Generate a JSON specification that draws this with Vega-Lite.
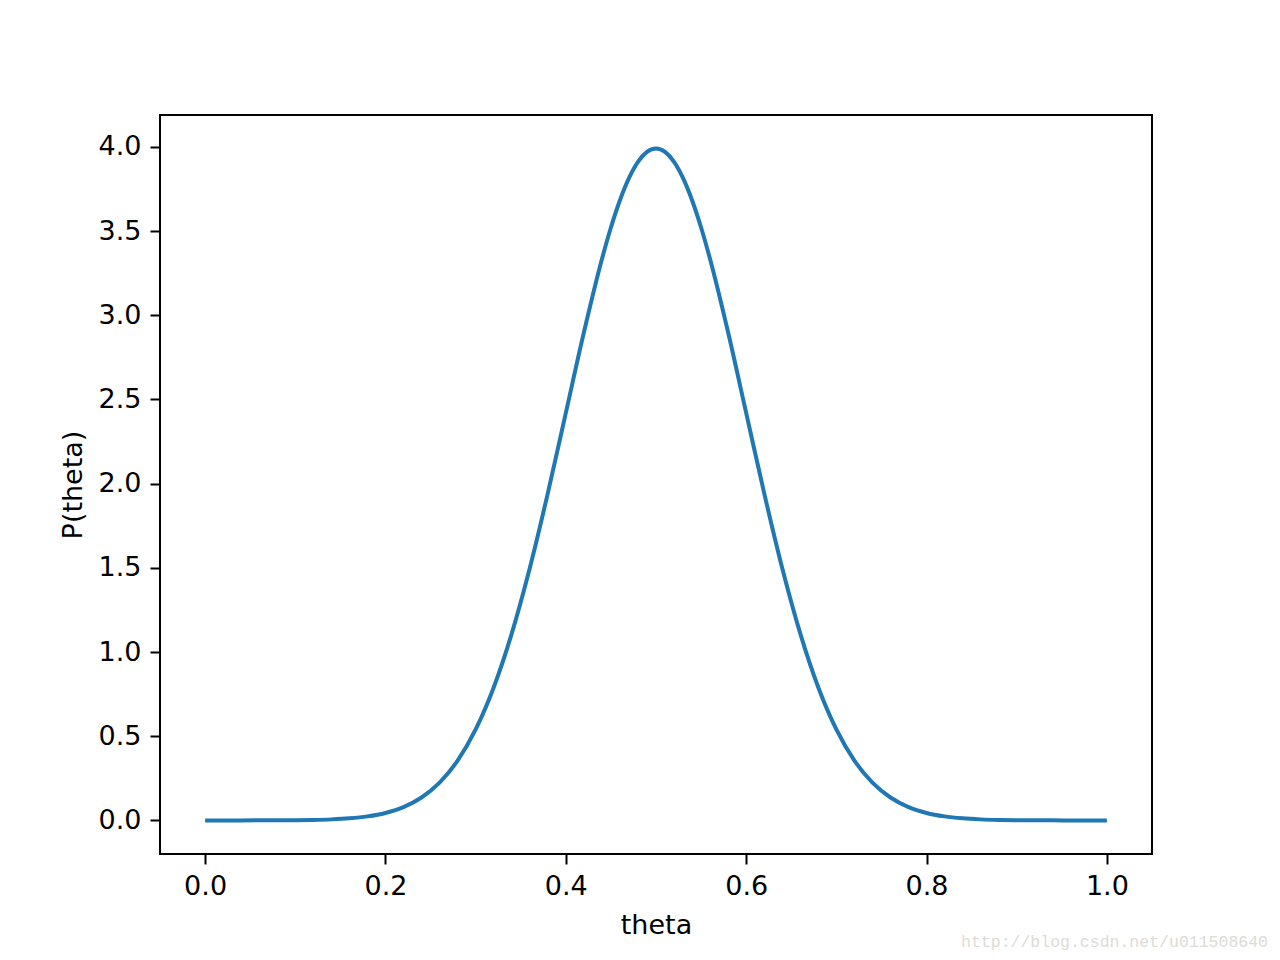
{
  "$schema": "https://vega.github.io/schema/vega-lite/v6.json",
  "autosize": "none",
  "width": 992,
  "height": 739,
  "padding": {"left": 160, "top": 115, "right": 128, "bottom": 106},
  "background": "white",
  "config": {
    "font": "DejaVu Sans",
    "view": {"stroke": "black", "strokeWidth": 2},
    "axis": {
      "domain": false,
      "grid": false,
      "tickColor": "black",
      "tickWidth": 2,
      "tickSize": 10,
      "labelColor": "black",
      "labelFont": "DejaVu Sans",
      "labelFontSize": 27,
      "titleFont": "DejaVu Sans",
      "titleFontSize": 27,
      "titleFontWeight": "normal",
      "titleColor": "black",
      "labelPadding": 9
    }
  },
  "title": {
    "text": "http://blog.csdn.net/u011508640",
    "orient": "bottom",
    "anchor": "end",
    "font": "Liberation Mono",
    "fontSize": 16.5,
    "fontWeight": "normal",
    "color": "#dcdcd6",
    "dx": 116,
    "offset": -4
  },
  "data": {
    "values": [
      {"theta": 0.00, "p": 0.00001},
      {"theta": 0.02, "p": 0.00004},
      {"theta": 0.04, "p": 0.0001},
      {"theta": 0.06, "p": 0.00025},
      {"theta": 0.08, "p": 0.00059},
      {"theta": 0.10, "p": 0.00134},
      {"theta": 0.12, "p": 0.00292},
      {"theta": 0.14, "p": 0.00612},
      {"theta": 0.16, "p": 0.01232},
      {"theta": 0.18, "p": 0.02384},
      {"theta": 0.20, "p": 0.04432},
      {"theta": 0.22, "p": 0.07915},
      {"theta": 0.24, "p": 0.13583},
      {"theta": 0.26, "p": 0.22395},
      {"theta": 0.28, "p": 0.35475},
      {"theta": 0.30, "p": 0.53991},
      {"theta": 0.32, "p": 0.7895},
      {"theta": 0.34, "p": 1.10921},
      {"theta": 0.36, "p": 1.49727},
      {"theta": 0.38, "p": 1.94186},
      {"theta": 0.40, "p": 2.41971},
      {"theta": 0.42, "p": 2.89692},
      {"theta": 0.44, "p": 3.33225},
      {"theta": 0.45, "p": 3.52065},
      {"theta": 0.46, "p": 3.6827},
      {"theta": 0.47, "p": 3.81388},
      {"theta": 0.48, "p": 3.91043},
      {"theta": 0.49, "p": 3.96952},
      {"theta": 0.50, "p": 3.98942},
      {"theta": 0.51, "p": 3.96952},
      {"theta": 0.52, "p": 3.91043},
      {"theta": 0.53, "p": 3.81388},
      {"theta": 0.54, "p": 3.6827},
      {"theta": 0.55, "p": 3.52065},
      {"theta": 0.56, "p": 3.33225},
      {"theta": 0.58, "p": 2.89692},
      {"theta": 0.60, "p": 2.41971},
      {"theta": 0.62, "p": 1.94186},
      {"theta": 0.64, "p": 1.49727},
      {"theta": 0.66, "p": 1.10921},
      {"theta": 0.68, "p": 0.7895},
      {"theta": 0.70, "p": 0.53991},
      {"theta": 0.72, "p": 0.35475},
      {"theta": 0.74, "p": 0.22395},
      {"theta": 0.76, "p": 0.13583},
      {"theta": 0.78, "p": 0.07915},
      {"theta": 0.80, "p": 0.04432},
      {"theta": 0.82, "p": 0.02384},
      {"theta": 0.84, "p": 0.01232},
      {"theta": 0.86, "p": 0.00612},
      {"theta": 0.88, "p": 0.00292},
      {"theta": 0.90, "p": 0.00134},
      {"theta": 0.92, "p": 0.00059},
      {"theta": 0.94, "p": 0.00025},
      {"theta": 0.96, "p": 0.0001},
      {"theta": 0.98, "p": 0.00004},
      {"theta": 1.00, "p": 0.00001}
    ]
  },
  "mark": {"type": "line", "color": "#1f77b4", "strokeWidth": 4, "interpolate": "monotone"},
  "encoding": {
    "x": {
      "field": "theta",
      "type": "quantitative",
      "scale": {"domain": [-0.05, 1.05], "nice": false, "zero": false},
      "axis": {"values": [0, 0.2, 0.4, 0.6, 0.8, 1.0], "format": ".1f", "title": "theta", "titlePadding": 13}
    },
    "y": {
      "field": "p",
      "type": "quantitative",
      "scale": {"domain": [-0.1995, 4.1889], "nice": false, "zero": false},
      "axis": {"values": [0, 0.5, 1, 1.5, 2, 2.5, 3, 3.5, 4], "format": ".1f", "title": "P(theta)", "titlePadding": 11}
    }
  }
}
